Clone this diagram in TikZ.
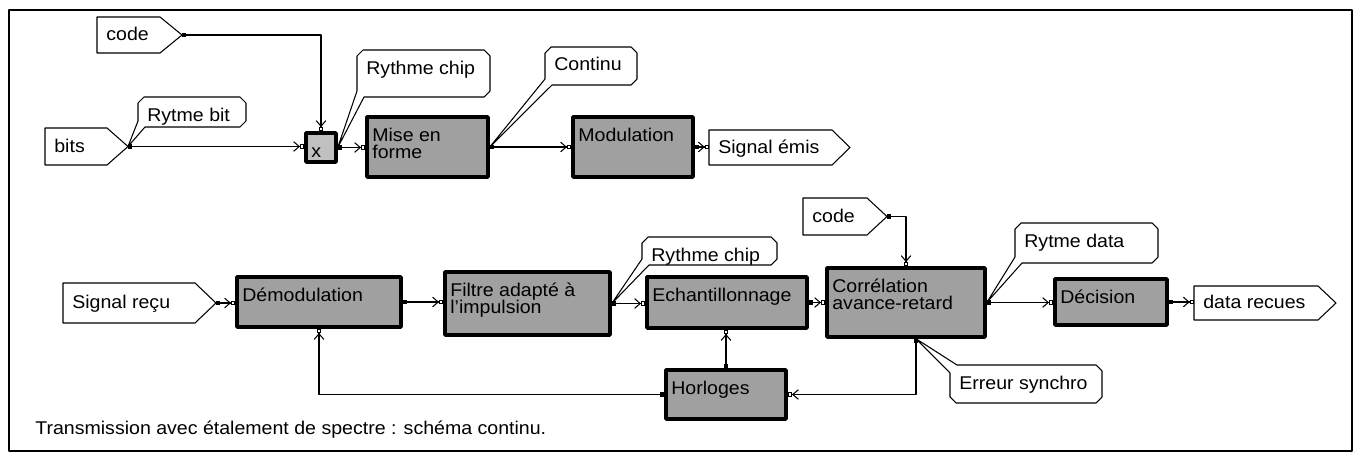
\documentclass[tikz,border=0pt]{standalone}
\usepackage{fontspec}
\setmainfont{Liberation Sans}[FakeStretch=1.06]
\usetikzlibrary{arrows.meta,calc,fit}

\definecolor{blockgray}{HTML}{A0A0A0}
\definecolor{multgray}{HTML}{C0C0C0}

\newcommand{\twolines}[2]{\vtop{\hbox{#1}\hbox{#2}}}

\begin{document}
\begin{tikzpicture}[x=0.02cm, y=-0.02cm, font=\fontsize{10.5}{10}\selectfont, line join=round]
    \tikzset{
        frame/.style={draw=black, line width=1.5pt},
        block/.style={draw=black, fill=blockgray, line width=2pt, inner sep=0pt},
        multbox/.style={block, fill=multgray},
        blocktext/.style={anchor=base west, inner sep=0pt},
        port/.style={draw=black, fill=white, line width=0.6pt},
        porttext/.style={anchor=base west, inner sep=0pt},
        bubble/.style={draw=black, fill=white, line width=0.6pt},
        bubbletext/.style={anchor=base west, inner sep=0pt},
        conn/.style={draw=black, line width=0.6pt,
            {Square[length=2.4pt,width=2.4pt]}-{Straight Barb[length=3.2pt,width=5.5pt] Square[open,length=2.4pt,width=2.4pt]}},
        caption/.style={anchor=base west, inner sep=0pt}
    }

    \newcommand{\blockbox}[7][block]{%
        \node[#1, fit={(#3,#4) (#5,#6)}] (#2) {};
        \node[blocktext] (#2t) at ({#3+5},{#4+24}) {#7};
    }

    \newcommand{\ioport}[7]{%
        \draw[port] (#2,#3) -- (#4,#3) -- (#5,{(#3+#6)/2}) -- (#4,#6) -- (#2,#6) -- cycle;
        \coordinate (#1-in) at (#2,{(#3+#6)/2});
        \coordinate (#1-out) at (#5,{(#3+#6)/2});
        \node[porttext] (#1) at ({#2+9},{(#3+#6)/2+5.5}) {#7};
    }

    % pointer at the lower left corner
    \newcommand{\bubblenote}[7]{%
        \draw[bubble] (#2,{#3+6}) -- ({#2+6},#3) -- ({#4-6},#3) -- (#4,{#3+6})
            -- (#4,{#5-6}) -- ({#4-6},#5) -- ({#2+7},#5) -- (#6) -- (#2,{#5-6}) -- cycle;
        \node[bubbletext] (#1) at ({#2+9},{#3+24}) {#7};
    }

    % pointer at the upper left corner
    \newcommand{\bubblenoteup}[7]{%
        \draw[bubble] ({#2+7},#3) -- ({#4-6},#3) -- (#4,{#3+6}) -- (#4,{#5-6})
            -- ({#4-6},#5) -- ({#2+6},#5) -- (#2,{#5-6}) -- (#2,{#3+8}) -- (#6) -- cycle;
        \node[bubbletext] (#1) at ({#2+9},{#3+24}) {#7};
    }

    % Frame
    \useasboundingbox (0,0) rectangle (1356,453);
    \draw[frame] (9,10) rectangle (1352,451);

    % Emitter
    \ioport{code1}{97}{17}{160}{182}{53}{code}
    \ioport{bits}{45}{128}{107}{128}{165}{bits}
    \blockbox[multbox]{mult}{306}{133}{336}{162}{x}
    \blockbox{mise}{367}{117}{488}{177}{\twolines{Mise en}{forme}}
    \blockbox{modul}{573}{117}{693}{177}{Modulation}
    \ioport{emis}{709}{130}{832}{850}{165}{Signal émis}

    % Receiver
    \ioport{recu}{63}{283}{195}{216}{323}{Signal reçu}
    \blockbox{demod}{237}{277}{401}{327}{Démodulation}
    \blockbox{filtre}{445}{272}{610}{335}{\twolines{Filtre adapté à}{l'impulsion}}
    \blockbox{echant}{647}{277}{807}{328}{Echantillonnage}
    \ioport{code2}{803}{198}{867}{887}{235}{code}
    \blockbox{correl}{827}{268}{985}{337}{\twolines{Corrélation}{avance-retard}}
    \blockbox{decis}{1055}{279}{1167}{325}{Décision}
    \ioport{recues}{1194}{286}{1318}{1336}{320}{data recues}
    \blockbox{horl}{666}{370}{786}{419}{Horloges}
    \coordinate (corr-err) at ($(correl.south)+(10,0)$);

    % Notes
    \bubblenote{rbit}{138}{97}{246}{127}{bits-out}{Rytme bit}
    \bubblenote{rchip}{357}{50}{490}{97}{mult.east}{Rythme chip}
    \bubblenote{cont}{545}{47}{637}{85}{mise.east}{Continu}
    \bubblenote{rchip2}{642}{237}{777}{265}{filtre.east}{Rythme chip}
    \bubblenote{rdata}{1015}{223}{1158}{263}{correl.east}{Rytme data}
    \bubblenoteup{err}{950}{365}{1102}{403}{corr-err}{Erreur synchro}

    % Emitter links
    \draw[conn] (code1-out) -| (mult.north);
    \draw[conn] (bits-out) -- (bits-out -| mult.west);
    \draw[conn] (mult.east) -- (mult.east -| mise.west);
    \draw[conn] (mise.east) -- (mise.east -| modul.west);
    \draw[conn] (modul.east) -- (modul.east -| emis-in);

    % Receiver links
    \draw[conn] (recu-out) -- (recu-out -| demod.west);
    \draw[conn] (demod.east) -- (demod.east -| filtre.west);
    \draw[conn] (filtre.east) -- (filtre.east -| echant.west);
    \draw[conn] (echant.east) -- (echant.east -| correl.west);
    \draw[conn] (code2-out) -| (correl.north);
    \draw[conn] (correl.east) -- (correl.east -| decis.west);
    \draw[conn] (decis.east) -- (decis.east -| recues-in);

    % Clock loop
    \draw[conn] (corr-err) |- (horl.east);
    \draw[conn] (horl.north) -- (horl.north |- echant.south);
    \draw[conn] (horl.west) -| (demod.south);

    \node[caption] (cap) at (35,434) {Transmission avec étalement de spectre : schéma continu.};
\end{tikzpicture}
\end{document}
